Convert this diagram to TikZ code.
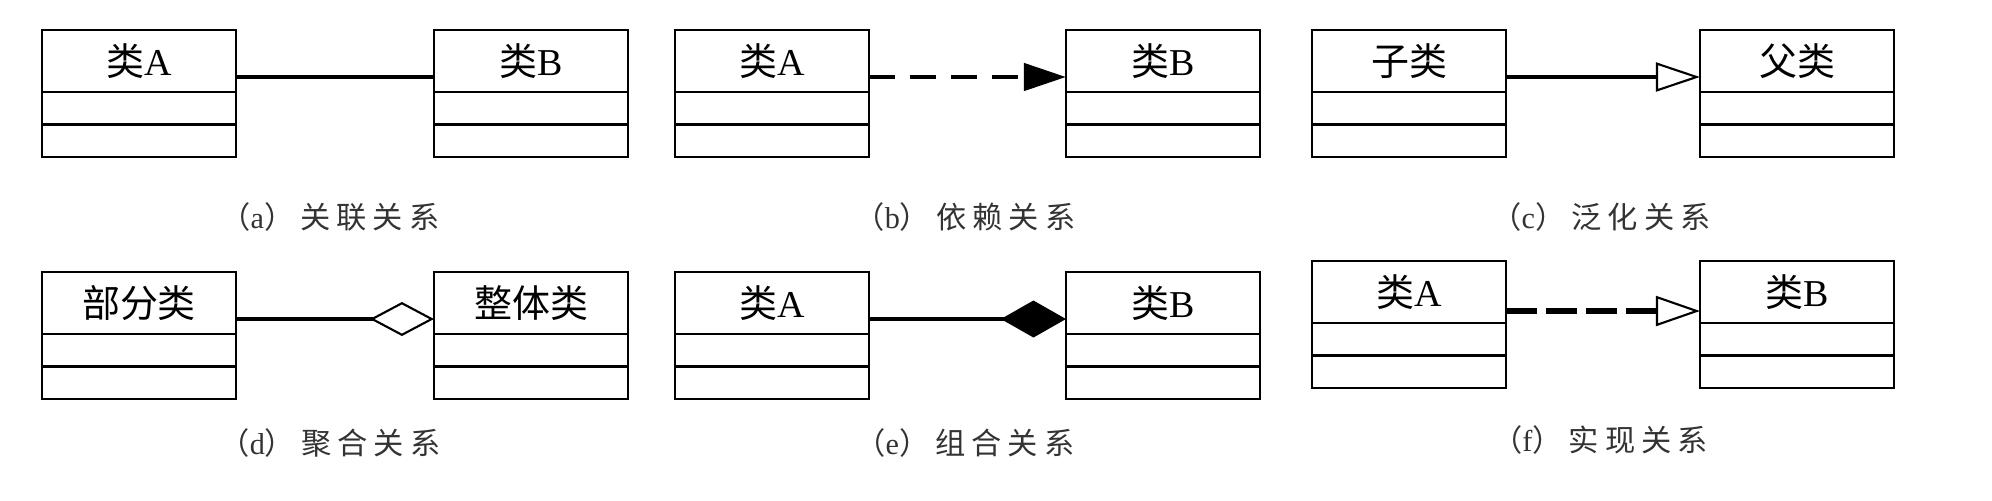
\documentclass[tikz,border=0pt]{standalone}
\usepackage{fontspec}
\setmainfont{Liberation Serif}
\newfontfamily\cjk{Noto Sans CJK SC}
\newfontfamily\cjkcap[LetterSpace=20]{Noto Sans CJK SC}
\usetikzlibrary{arrows.meta,positioning}

\tikzset{
  head/.style={draw, line width=0.6pt, minimum width=1.94cm, minimum height=0.62cm,
    inner sep=0pt, outer sep=0pt, font=\fontsize{10.8}{12}\selectfont},
  slot/.style={draw, line width=0.6pt, minimum width=1.94cm, minimum height=0.325cm,
    inner sep=0pt, outer sep=0pt},
  caption/.style={font=\fontsize{8.6}{10}\selectfont, text=black!80},
  rel/.style={line width=1.3pt},
}

\begin{document}
\begin{tikzpicture}[x=0.01cm,y=-0.01cm]
    \useasboundingbox (0,0) rectangle (1992,500);

    % (a)
    \node[head] (a1) at (139,61) {{\cjk 类}A};
    \node[slot, below=0pt of a1] (a1m) {};
    \node[slot, below=0pt of a1m] (a1b) {};
    \node[head] (a2) at (531,61) {{\cjk 类}B};
    \node[slot, below=0pt of a2] (a2m) {};
    \node[slot, below=0pt of a2m] (a2b) {};
    \draw[rel] ([yshift=-0.16cm]a1.east) -- ([yshift=-0.16cm]a2.west);
    \node[caption] (capa) at (330,217) {{\cjkcap （}a{\cjkcap ）关联关系}};

    % (b)
    \node[head] (b1) at (772,61) {{\cjk 类}A};
    \node[slot, below=0pt of b1] (b1m) {};
    \node[slot, below=0pt of b1m] (b1b) {};
    \node[head] (b2) at (1163,61) {{\cjk 类}B};
    \node[slot, below=0pt of b2] (b2m) {};
    \node[slot, below=0pt of b2m] (b2b) {};
    \draw[rel, dash pattern=on 0.26cm off 0.15cm, -{Triangle[length=0.42cm,width=0.27cm]}]
      ([yshift=-0.16cm]b1.east) -- ([yshift=-0.16cm]b2.west);
    \node[caption] (capb) at (965,217) {{\cjkcap （}b{\cjkcap ）依赖关系}};

    % (c)
    \node[head] (c1) at (1409,61) {\cjk 子类};
    \node[slot, below=0pt of c1] (c1m) {};
    \node[slot, below=0pt of c1m] (c1b) {};
    \node[head] (c2) at (1797,61) {\cjk 父类};
    \node[slot, below=0pt of c2] (c2m) {};
    \node[slot, below=0pt of c2m] (c2b) {};
    \draw[rel, -{Triangle[open,length=0.44cm,width=0.29cm,line width=0.6pt]}]
      ([yshift=-0.16cm]c1.east) -- ([yshift=-0.16cm]c2.west);
    \node[caption] (capc) at (1601,217) {{\cjkcap （}c{\cjkcap ）泛化关系}};

    % (d)
    \node[head] (d1) at (139,303) {\cjk 部分类};
    \node[slot, below=0pt of d1] (d1m) {};
    \node[slot, below=0pt of d1m] (d1b) {};
    \node[head] (d2) at (531,303) {\cjk 整体类};
    \node[slot, below=0pt of d2] (d2m) {};
    \node[slot, below=0pt of d2m] (d2b) {};
    \draw[rel, -{Diamond[open,length=0.64cm,width=0.34cm,line width=0.6pt]}]
      ([yshift=-0.16cm]d1.east) -- ([yshift=-0.16cm]d2.west);
    \node[caption] (capd) at (330,443) {{\cjkcap （}d{\cjkcap ）聚合关系}};

    % (e)
    \node[head] (e1) at (772,303) {{\cjk 类}A};
    \node[slot, below=0pt of e1] (e1m) {};
    \node[slot, below=0pt of e1m] (e1b) {};
    \node[head] (e2) at (1163,303) {{\cjk 类}B};
    \node[slot, below=0pt of e2] (e2m) {};
    \node[slot, below=0pt of e2m] (e2b) {};
    \draw[rel, -{Diamond[length=0.65cm,width=0.37cm]}]
      ([yshift=-0.16cm]e1.east) -- ([yshift=-0.16cm]e2.west);
    \node[caption] (cape) at (965,443) {{\cjkcap （}e{\cjkcap ）组合关系}};

    % (f)
    \node[head] (f1) at (1409,292) {{\cjk 类}A};
    \node[slot, below=0pt of f1] (f1m) {};
    \node[slot, below=0pt of f1m] (f1b) {};
    \node[head] (f2) at (1797,292) {{\cjk 类}B};
    \node[slot, below=0pt of f2] (f2m) {};
    \node[slot, below=0pt of f2m] (f2b) {};
    \draw[rel, line width=1.5pt, dash pattern=on 0.31cm off 0.09cm,
      -{Triangle[open,length=0.44cm,width=0.3cm,line width=0.6pt]}]
      ([yshift=-0.19cm]f1.east) -- ([yshift=-0.19cm]f2.west);
    \node[caption] (capf) at (1600,440) {{\cjkcap （}f{\cjkcap ）实现关系}};
  \end{tikzpicture}
\end{document}
